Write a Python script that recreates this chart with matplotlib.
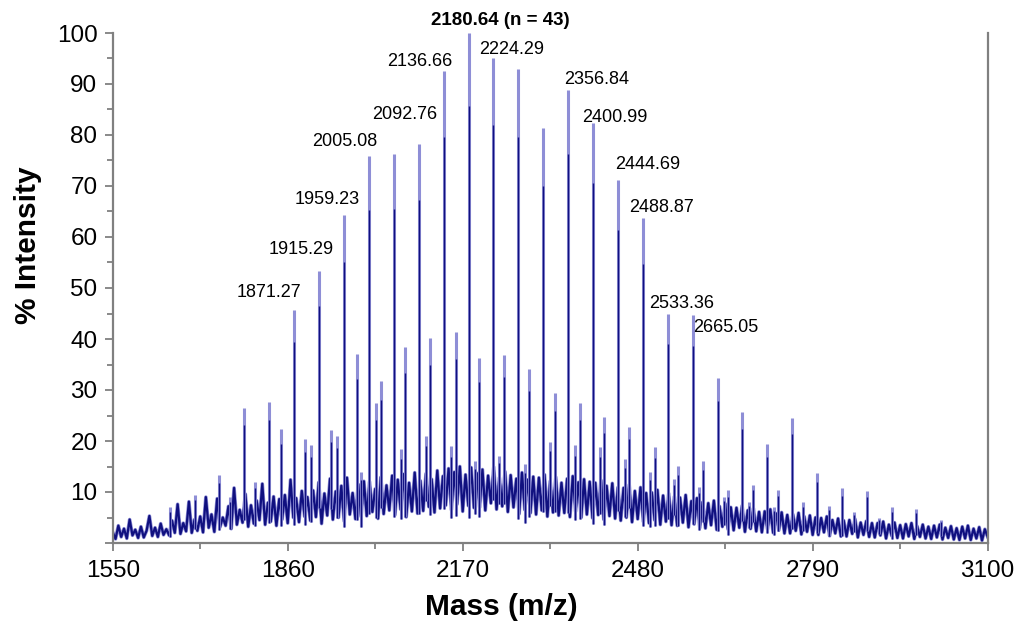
import numpy as np
import matplotlib
matplotlib.use("Agg")
import matplotlib.pyplot as plt
from matplotlib.ticker import MultipleLocator

plt.rcParams["font.family"] = ["Liberation Sans", "DejaVu Sans"]

# main oligomer series (m/z, % intensity)
main_mz = [1651, 1695, 1739, 1783, 1827, 1871.27, 1915.29, 1959.23, 2003.2,
           2048.1, 2092.76, 2136.66, 2180.64, 2224.29, 2268.5, 2312.6, 2356.84,
           2400.99, 2444.69, 2488.87, 2533.36, 2577.3, 2621.4, 2665.05, 2709.4,
           2753.5, 2797.6, 2841.7, 2885.8, 2929.9, 2973.5, 3017.0]
main_int = [7.0, 9.5, 13.3, 26.4, 27.6, 45.7, 53.4, 64.3, 75.9,
            76.2, 78.2, 92.5, 100.0, 95.0, 92.9, 81.4, 88.8,
            82.4, 71.2, 63.7, 45.0, 44.7, 32.3, 25.6, 19.5,
            24.6, 13.7, 10.7, 10.2, 7.0, 6.7, 4.6]

# second series, about 21 Da above the main one
sec_mz = [1758, 1802, 1849, 1891, 1936, 1982, 2026, 2068, 2112, 2159, 2199,
          2244, 2288, 2333, 2378, 2421, 2465, 2511, 2552, 2596, 2640, 2685,
          2728, 2773, 2819, 2863, 2907]
sec_int = [9.0, 12.0, 22.3, 20.3, 22.2, 37.0, 31.8, 38.4, 40.1, 41.4, 36.2,
           36.9, 34.1, 29.4, 27.5, 24.8, 22.7, 18.9, 15.1, 16.1, 10.4, 11.4,
           10.4, 8.0, 7.3, 6.0, 5.0]

# smaller side peaks
ter_mz = [1902, 1947, 1990, 2017, 2061, 2105, 2149, 2192, 2235, 2280,
          2325, 2369, 2413, 2457, 2501, 2545, 2589, 2633, 2677, 2721]
ter_int = [19.2, 21.0, 14.0, 27.5, 18.5, 21.0, 19.0, 16.0, 17.0, 15.5,
           19.9, 19.2, 18.9, 16.5, 14.0, 12.5, 11.0, 9.0, 8.0, 7.0]

# baseline noise, every 5 Da from 1550 to 3100
noise = [
    2.1, 0.8, 3.4, 1.2, 2.8, 0.9, 4.6, 1.5, 2.6, 1.0,
    3.2, 1.1, 2.4, 5.3, 1.4, 3.0, 1.2, 3.8, 1.6, 2.7,
    1.5, 4.4, 2.0, 7.6, 1.8, 3.9, 2.3, 8.1, 2.0, 4.6,
    2.4, 5.2, 2.1, 9.0, 3.0, 5.6, 2.2, 8.7, 3.1, 5.0,
    3.4, 7.2, 2.8, 10.8, 3.6, 6.5, 4.0, 9.6, 3.2, 7.4,
    3.8, 8.3, 4.5, 11.6, 3.6, 7.9, 4.2, 9.1, 3.4, 8.6,
    4.6, 9.4, 3.9, 12.4, 5.0, 8.8, 4.1, 10.2, 5.2, 9.0,
    4.4, 10.3, 5.1, 11.9, 3.8, 9.7, 5.4, 12.6, 4.6, 10.1,
    5.0, 11.2, 4.3, 12.8, 5.6, 9.8, 4.7, 11.5, 5.2, 12.1,
    5.3, 12.0, 6.1, 10.6, 4.8, 12.9, 5.7, 11.3, 6.4, 13.2,
    5.5, 12.4, 6.6, 13.5, 5.1, 11.8, 6.2, 13.8, 5.8, 12.2,
    6.3, 13.6, 7.1, 12.5, 6.0, 14.2, 6.8, 13.1, 7.4, 14.6,
    6.5, 13.9, 7.6, 15.0, 6.2, 13.4, 7.3, 14.8, 6.9, 13.7,
    7.0, 14.4, 6.4, 13.2, 7.8, 14.9, 6.6, 12.8, 7.2, 14.0,
    6.1, 13.3, 7.0, 12.6, 5.7, 13.8, 6.5, 12.4, 5.9, 13.0,
    5.6, 12.8, 6.4, 13.4, 5.2, 12.1, 6.0, 12.9, 5.4, 11.8,
    5.9, 12.6, 5.1, 13.1, 6.2, 11.9, 5.0, 12.5, 5.6, 12.0,
    4.9, 11.8, 5.5, 12.3, 4.6, 11.2, 5.3, 11.7, 4.8, 10.9,
    4.4, 10.8, 5.0, 11.4, 4.1, 10.2, 4.7, 10.9, 4.2, 9.8,
    3.9, 9.9, 4.5, 10.4, 3.6, 9.3, 4.2, 9.7, 3.5, 9.1,
    3.4, 8.9, 4.0, 9.4, 3.1, 8.2, 3.7, 8.8, 3.0, 8.0,
    2.9, 7.8, 3.5, 8.3, 2.6, 7.2, 3.2, 7.7, 2.7, 7.0,
    2.5, 6.9, 3.0, 7.3, 2.2, 6.4, 2.8, 6.8, 2.3, 6.1,
    2.1, 6.2, 2.7, 6.6, 2.0, 5.8, 2.5, 6.0, 1.9, 5.5,
    1.9, 5.6, 2.4, 5.9, 1.7, 5.2, 2.2, 5.4, 1.6, 5.0,
    1.6, 4.9, 2.1, 5.2, 1.4, 4.5, 1.9, 4.8, 1.3, 4.4,
    1.3, 4.5, 1.8, 4.7, 1.1, 4.0, 1.6, 4.3, 1.2, 3.9,
    1.1, 3.9, 1.5, 4.2, 0.9, 3.6, 1.4, 4.0, 1.0, 3.5,
    0.9, 3.7, 1.3, 3.9, 0.8, 3.3, 1.2, 3.6, 0.9, 3.2,
    0.8, 3.4, 1.1, 3.6, 0.7, 3.0, 1.0, 3.3, 0.7, 2.9,
    0.6, 3.2, 0.9, 3.4, 0.6, 2.8, 0.9, 3.1, 0.5, 2.7, 1.2,
]
noise_mz = np.arange(1550, 3101, 5)

# peak labels: (text, x, y) in data units
labels = [
    ("1871.27", 1827, 49.2), ("1915.29", 1884, 57.6), ("1959.23", 1930, 67.4),
    ("2005.08", 1961, 78.8), ("2092.76", 2068, 84.1), ("2136.66", 2094, 94.4),
    ("2224.29", 2257, 96.7), ("2356.84", 2408, 90.8), ("2400.99", 2439, 83.5),
    ("2444.69", 2497, 74.3), ("2488.87", 2523, 65.8), ("2533.36", 2557, 47.0),
    ("2665.05", 2636, 42.2),
]
top_label = "2180.64 (n = 43)"

light = "#8e8ed6"
dark = "#10107f"
grey = "#808080"

fig = plt.figure(figsize=(10.2, 6.25), dpi=100)
ax = fig.add_axes([0.1105, 0.1312, 0.8578, 0.816])

ax.plot(noise_mz, noise, color=light, lw=2.6, zorder=2)
ax.plot(noise_mz, noise, color=dark, lw=1.6, zorder=2.5)

for mz, inten in [(sec_mz, sec_int), (ter_mz, ter_int), (main_mz, main_int)]:
    mz = np.asarray(mz, float)
    inten = np.asarray(inten, float)
    foot = np.interp(mz, noise_mz, noise) * 0.6
    ax.vlines(mz, foot, inten, color=light, lw=2.2, zorder=3)
    ax.vlines(mz, foot, foot + (inten - foot) * 0.85, color=dark, lw=1.0, zorder=4)

for txt, x, y in labels:
    ax.text(x, y, txt, fontsize=13, ha="center", va="center", clip_on=False)
ax.text(2236, 102.5, top_label, fontsize=13.5, fontweight="bold",
        ha="center", va="center", clip_on=False)

ax.set_xlim(1550, 3100)
ax.set_ylim(0, 100)
ax.set_xticks([1550, 1860, 2170, 2480, 2790, 3100])
ax.xaxis.set_minor_locator(MultipleLocator(155))
ax.set_yticks(range(0, 101, 10))
ax.set_yticklabels([""] + [str(v) for v in range(10, 101, 10)])
ax.yaxis.set_minor_locator(MultipleLocator(5))

ax.spines["top"].set_visible(False)
for side in ["left", "bottom", "right"]:
    ax.spines[side].set_color(grey)
    ax.spines[side].set_linewidth(1.6)

ax.tick_params(axis="both", which="both", direction="out", color=grey, width=1.3)
ax.tick_params(axis="both", which="major", length=6, labelsize=17.5)
ax.tick_params(axis="both", which="minor", length=4)
ax.tick_params(axis="y", pad=5)
ax.tick_params(axis="x", pad=6)

ax.set_xlabel("Mass (m/z)", fontsize=21.5, fontweight="bold")
ax.set_ylabel("% Intensity", fontsize=21.5, fontweight="bold")
ax.xaxis.set_label_coords(0.444, -0.098)
ax.yaxis.set_label_coords(-0.081, 0.584)

fig.savefig("out.png", dpi=100)
